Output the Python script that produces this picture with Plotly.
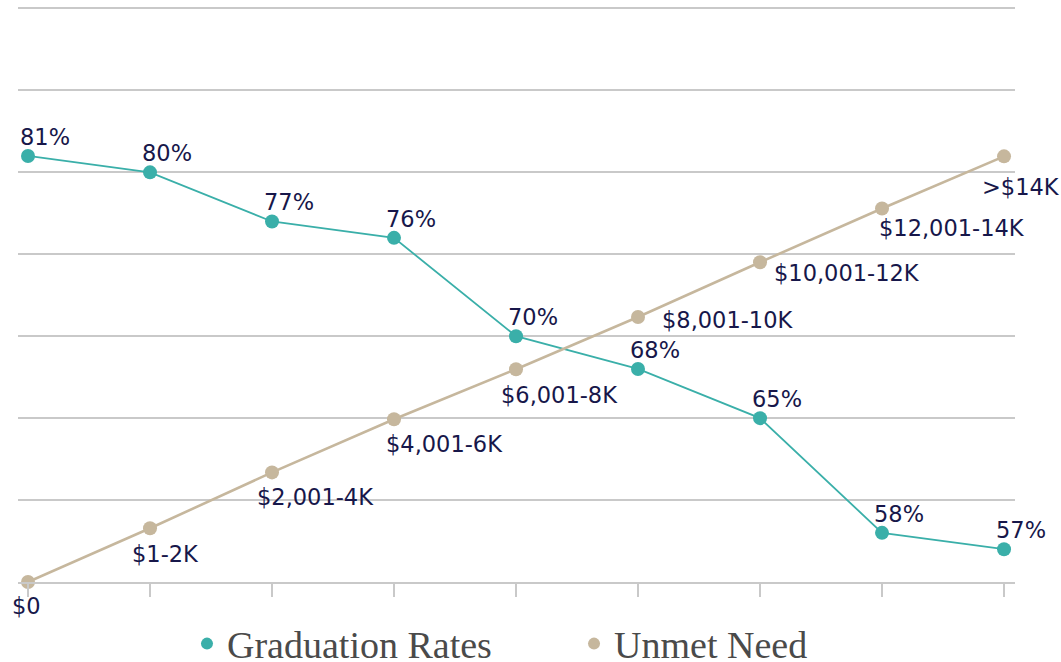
import plotly.graph_objects as go

categories = ["$0", "$1-2K", "$2,001-4K", "$4,001-6K", "$6,001-8K",
              "$8,001-10K", "$10,001-12K", "$12,001-14K", ">$14K"]
grad_rates = [81, 80, 77, 76, 70, 68, 65, 58, 57]
grad_labels = ["81%", "80%", "77%", "76%", "70%", "68%", "65%", "58%", "57%"]
unmet_need_level = [0, 1.01, 2.06, 3.06, 4.0, 4.98, 6.01, 7.02, 8.0]

# label placement (style only)
unmet_dx = [-18, -20, -17, -10, -17, 22, 12, -5, -24]
unmet_dy = [-24, -26, -25, -25, -26, -3, -11, -19, -31]

TEAL = "#3AAFA9"
TAN = "#C6B79D"
NAVY = "#17174A"
GRID = "#C9C9C9"
LABEL_FONT = dict(family="DejaVu Sans", size=22.5, color=NAVY)
LEGEND_FONT = dict(family="Liberation Serif", size=38, color="#4A4A4A")

fig = go.Figure()

fig.add_trace(go.Scatter(
    x=categories, y=grad_rates, mode="lines+markers", showlegend=False,
    line=dict(color=TEAL, width=1.8), marker=dict(color=TEAL, size=14),
    cliponaxis=False, yaxis="y"))
fig.add_trace(go.Scatter(
    x=categories, y=unmet_need_level, mode="lines+markers", showlegend=False,
    line=dict(color=TAN, width=2.6), marker=dict(color=TAN, size=14),
    cliponaxis=False, yaxis="y2"))

# legend-only entries (markers only)
fig.add_trace(go.Scatter(x=[None], y=[None], mode="markers", name="Graduation Rates",
                         marker=dict(color=TEAL, size=14), legend="legend"))
fig.add_trace(go.Scatter(x=[None], y=[None], mode="markers", name="Unmet Need",
                         marker=dict(color=TAN, size=14), legend="legend2"))

annotations = []
for c, v, t in zip(categories, grad_rates, grad_labels):
    annotations.append(dict(x=c, y=v, xref="x", yref="y", text=t, showarrow=False,
                            xanchor="center", yanchor="middle", xshift=17, yshift=19,
                            font=LABEL_FONT))
for c, v, dx, dy in zip(categories, unmet_need_level, unmet_dx, unmet_dy):
    annotations.append(dict(x=c, y=v, xref="x", yref="y2", text=c, showarrow=False,
                            xanchor="left", yanchor="middle", xshift=dx, yshift=dy,
                            font=LABEL_FONT))

legend_common = dict(orientation="h", y=-0.1075, yanchor="middle", xanchor="left",
                     font=LEGEND_FONT, itemsizing="constant", itemwidth=30,
                     bgcolor="rgba(0,0,0,0)")

fig.update_layout(
    width=1061, height=662,
    margin=dict(l=18, r=46, t=5.5, b=80, autoexpand=False),
    paper_bgcolor="white", plot_bgcolor="white",
    showlegend=True,
    legend=dict(x=0.1695, **legend_common),
    legend2=dict(x=0.5577, **legend_common),
    xaxis=dict(type="category", range=[-0.082, 8.09], showticklabels=False,
               ticks="outside", ticklen=13, tickwidth=2, tickcolor=GRID,
               showline=True, linecolor=GRID, linewidth=2, showgrid=False, zeroline=False),
    yaxis=dict(range=[55, 90.15], dtick=5, tick0=55, showticklabels=False, showgrid=True,
               gridcolor=GRID, gridwidth=2, zeroline=False, showline=False),
    yaxis2=dict(range=[0, 10.826], overlaying="y", side="right", showticklabels=False,
                showgrid=False, zeroline=False, showline=False),
    annotations=annotations,
)

fig.write_html("out.html", config={"displayModeBar": False},
               post_script="document.body.style.margin='0';")
